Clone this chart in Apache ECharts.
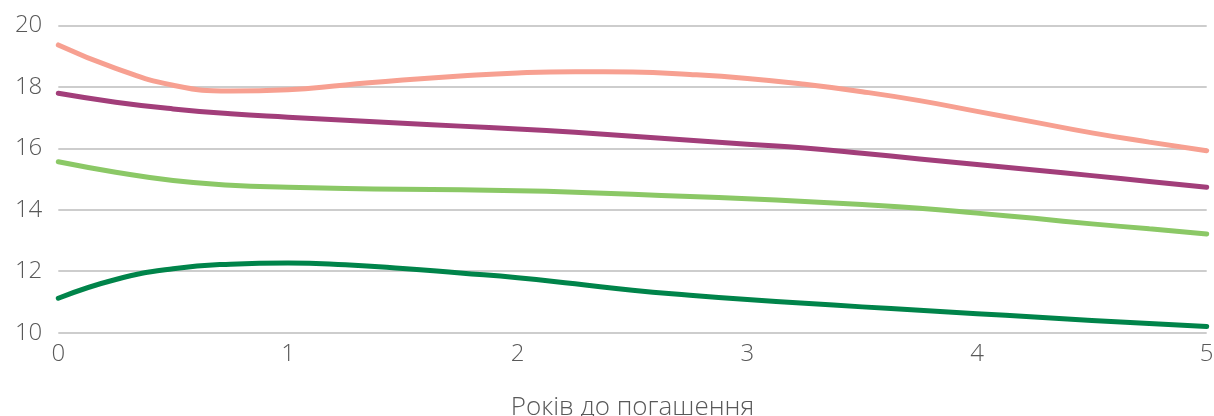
<!DOCTYPE html>
<html>
<head>
<meta charset="utf-8">
<script src="https://cdn.jsdelivr.net/npm/echarts@6/dist/echarts.min.js"></script>
<style>
  html, body { margin: 0; padding: 0; background: #ffffff; overflow: hidden; }
  #chart { width: 1214px; height: 416px; }
</style>
</head>
<body>
<div id="chart"></div>
<script>
// Years to maturity (x) and yield curves (y, %)
const years = [0, 0.25, 0.5, 0.75, 1, 1.25, 1.5, 1.75, 2, 2.25, 2.5, 2.75, 3, 3.25, 3.5, 3.75, 4, 4.25, 4.5, 4.75, 5];

const curvePink = [19.36, 18.60, 18.05, 17.86, 17.90, 18.06, 18.22, 18.35, 18.45, 18.49, 18.48, 18.40, 18.27, 18.08, 17.84, 17.55, 17.20, 16.85, 16.50, 16.20, 15.92];
const curvePurple = [17.79, 17.50, 17.28, 17.12, 17.01, 16.91, 16.81, 16.72, 16.63, 16.52, 16.39, 16.26, 16.13, 16.01, 15.84, 15.65, 15.47, 15.29, 15.11, 14.92, 14.73];
const curveLightGreen = [15.56, 15.22, 14.95, 14.80, 14.73, 14.69, 14.67, 14.65, 14.62, 14.57, 14.50, 14.43, 14.36, 14.27, 14.17, 14.05, 13.89, 13.72, 13.54, 13.38, 13.21];
const curveDarkGreen = [11.12, 11.73, 12.08, 12.23, 12.27, 12.21, 12.09, 11.94, 11.79, 11.59, 11.38, 11.22, 11.08, 10.96, 10.84, 10.73, 10.62, 10.51, 10.40, 10.30, 10.20];

const xTicks = [0, 1, 2, 3, 4, 5];
const yTicks = [10, 12, 14, 16, 18, 20];
const xAxisTitle = 'Років до погашення';

const colors = ['#F7A091', '#A23E7A', '#8BC866', '#00844A'];
const curves = [curvePink, curvePurple, curveLightGreen, curveDarkGreen];

const textFont = '"Open Sans", Lato, sans-serif';
const textStyle = { color: '#595959', fontSize: 24, fontWeight: 300, fontFamily: textFont };

const chart = echarts.init(document.getElementById('chart'), null, { renderer: 'canvas' });

chart.setOption({
  animation: false,
  backgroundColor: '#ffffff',
  grid: {
    left: 58.3, right: 7.3, top: 25.3, bottom: 83.3,
    containLabel: false,
    outerBoundsMode: 'none'
  },
  xAxis: {
    type: 'value',
    min: xTicks[0],
    max: xTicks[xTicks.length - 1],
    interval: 1,
    name: xAxisTitle,
    nameLocation: 'middle',
    nameGap: 62,
    nameTextStyle: Object.assign({}, textStyle, { fontSize: 26 }),
    axisLine: { show: false },
    axisTick: { show: false },
    splitLine: { show: false },
    axisLabel: Object.assign({ margin: 9 }, textStyle)
  },
  yAxis: {
    type: 'value',
    min: yTicks[0],
    max: yTicks[yTicks.length - 1],
    interval: 2,
    axisLine: { show: false },
    axisTick: { show: false },
    splitLine: { show: true, lineStyle: { color: '#bdbdbd', width: 1.5 } },
    axisLabel: Object.assign({ margin: 16 }, textStyle)
  },
  series: curves.map((vals, i) => ({
    type: 'line',
    smooth: true,
    showSymbol: false,
    symbol: 'none',
    data: years.map((x, j) => [x, vals[j]]),
    lineStyle: { color: colors[i], width: 5, cap: 'round', join: 'round' },
    itemStyle: { color: colors[i] },
    z: 2 + i
  }))
});
</script>
</body>
</html>
